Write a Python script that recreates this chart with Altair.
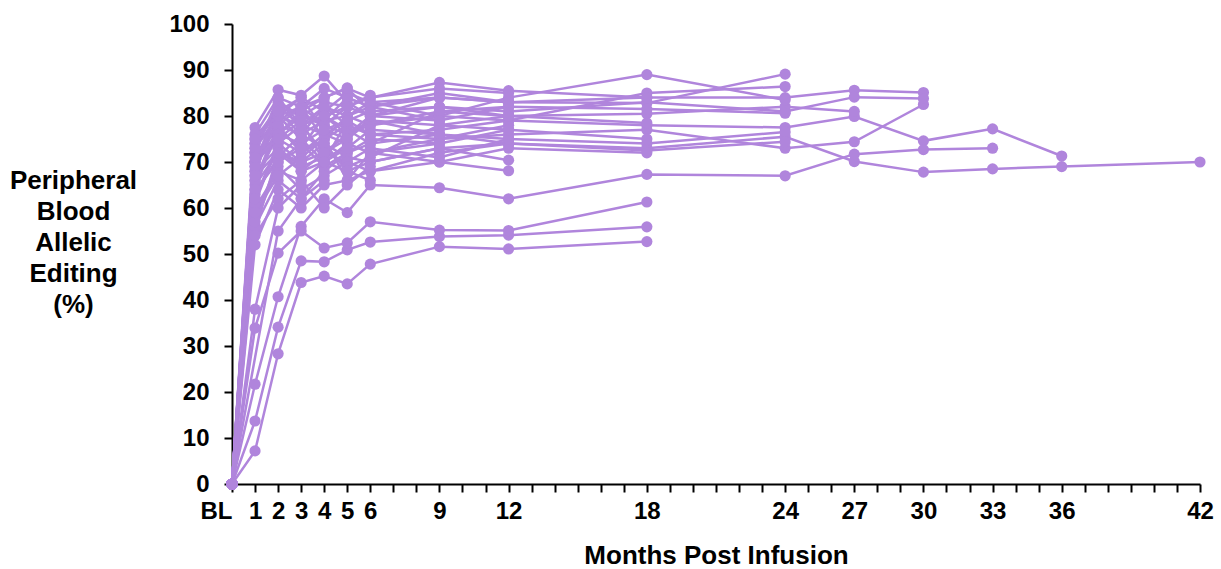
import altair as alt
import pandas as pd

months = [0, 1, 2, 3, 4, 5, 6, 9, 12, 18, 24, 27, 30, 33, 36, 42]
tick_labels = [0, 1, 2, 3, 4, 5, 6, 9, 12, 18, 24, 27, 30, 33, 36, 42]

# one list per patient, aligned with `months` (None = no sample)
p01 = [0, 62, 74, 70, 72, 70, 68, 72, 74, 73, 75.5, 70.1, 67.8, 68.5, 69.0, 70.0]
p02 = [0, 70, 78, 76, 79, 80, 78, 80, 79, 78, 77.5, 79.9, 74.6, 77.2, 71.3]
p03 = [0, 21.7, 40.7, 56, 62, 59, 65, 64.4, 62.0, 67.3, 67.0, 71.7, 72.7, 73.0]
p04 = [0, 55, 72, 68, 70, 74, 72, 75, 76, 77, 73, 74.4, 82.5]
p05 = [0, 74, 82, 80, 83, 82, 80, 84, 83, 84, 84, 85.6, 85.1]
p06 = [0, 68, 80, 78, 76, 79, 81, 82, 81, 83, 81, 84.1, 83.8]
p07 = [0, 66, 76, 74, 77, 75, 79, 78, 80, 80.5, 82, 81.0]
p08 = [0, 72, 84, 82, 86, 84, 82, 85, 83, 82.8, 89.1]
p09 = [0, 76, 80, 84, 81, 85, 83, 80, 84, 89.0, 83.5]
p10 = [0, 64, 78, 72, 75, 78, 76, 77, 79, 85, 86.4]
p11 = [0, 58, 70, 74, 69, 72, 74, 76, 75, 74, 76.5]
p12 = [0, 60, 68, 66, 70, 68, 70, 73, 74, 72.5, 74.4]
p13 = [0, 75, 82, 78, 80, 76, 78, 81, 82, 81.5, 80.6]
p14 = [0, 7.2, 28.3, 43.8, 45.2, 43.5, 47.8, 51.6, 51.1, 52.7]
p15 = [0, 13.7, 34.1, 48.5, 48.3, 50.9, 52.6, 53.8, 54.1, 55.9]
p16 = [0, 33.9, 50.2, 55, 51.3, 52.4, 57, 55.2, 55.1, 61.3]
p17 = [0, 73, 80, 82, 84, 86, 84, 87.3, 85.5, 84]
p18 = [0, 77.5, 85.7, 84.5, 88.7, 83, 80, 82, 80, 78.5]
p19 = [0, 56, 66, 62, 68, 72, 75, 74, 77, 75]
p20 = [0, 70, 75, 72, 76, 74, 72, 70, 73, 72]
p21 = [0, 71, 76, 80, 78, 82, 84, 86, 85]
p22 = [0, 65, 72, 70, 74, 71, 70, 73, 70.4]
p23 = [0, 52, 64, 60, 65, 66, 68, 70, 68.1]
p24 = [0, 69, 79, 82, 75, 80, 82, 79, 82]
p25 = [0, 74, 81, 76, 82, 78, 76, 75, 78]
p26 = [0, 61, 74, 78, 72, 76, 79, 76, 74]
p27 = [0, 67, 83, 80, 79, 84, 82, 84, 83]
p28 = [0, 57, 69, 64, 67, 70, 73, 71, 75]
p29 = [0, 72, 77, 73, 80, 77, 74, 81, 80]
p30 = [0, 63, 71, 76, 73, 69, 71, 78, 77]
p31 = [0, 76, 84, 78, 82, 80, 83, 84]
p32 = [0, 68, 73, 69, 71, 73, 77, 76]
p33 = [0, 59, 67, 71, 75, 66, 72, 74]
p34 = [0, 66, 78, 82, 78, 76, 80, 79]
p35 = [0, 73, 80, 75, 70, 79, 76]
p36 = [0, 54, 62, 66, 60, 65, 69]
p37 = [0, 70, 82, 78, 80, 82, 84.5]
p38 = [0, 64, 70, 73, 74, 68, 66]
p39 = [0, 75, 76, 81, 84, 86.1, 81]
p40 = [0, 62, 73, 68, 72, 75]
p41 = [0, 69, 81, 84, 77, 79]
p42 = [0, 71, 75, 79, 70, 73]
p43 = [0, None, 55, 62, 66]
p44 = [0, 38, 60, 65]
p45 = [0, 67, 72, 70]

patients = [p01, p02, p03, p04, p05, p06, p07, p08, p09, p10, p11, p12, p13, p14, p15,
            p16, p17, p18, p19, p20, p21, p22, p23, p24, p25, p26, p27, p28, p29, p30,
            p31, p32, p33, p34, p35, p36, p37, p38, p39, p40, p41, p42, p43, p44, p45]

rows = []
for i, series in enumerate(patients):
    for m, v in zip(months, series):
        if v is not None:
            rows.append({"patient": f"P{i + 1:02d}", "month": m, "value": v})
df = pd.DataFrame(rows)

PURPLE = "#B085DC"
FONT = "Liberation Sans"

label_list = ",".join(str(v) for v in tick_labels)
label_expr = (f"indexof([{label_list}], datum.value) >= 0 ? "
              "(datum.value == 0 ? 'BL' : datum.label) : ''")

x_enc = alt.X(
    "month:Q",
    scale=alt.Scale(domain=[0, 42], nice=False, zero=True),
    axis=alt.Axis(
        values=list(range(0, 43)),
        labelExpr=label_expr,
        labelOverlap=False,
        labelFlush=False,
        labelAlign={"condition": {"test": "datum.value == 0", "value": "right"}, "value": "center"},
        labelFont=FONT, labelFontSize=24, labelFontWeight="bold", labelColor="black",
        labelPadding=7,
        tickSize=8, tickWidth=2, tickColor="black",
        domainColor="black", domainWidth=2,
        grid=False,
        title="Months Post Infusion",
        titleFont=FONT, titleFontSize=26, titleFontWeight="bold", titleColor="black",
        titleBaseline="alphabetic", titleY=79,
    ),
)
y_enc = alt.Y(
    "value:Q",
    scale=alt.Scale(domain=[0, 100], nice=False),
    axis=alt.Axis(
        values=list(range(0, 101, 10)),
        labelFont=FONT, labelFontSize=24, labelFontWeight="bold", labelColor="black",
        labelPadding=15,
        tickSize=8, tickWidth=2, tickColor="black",
        domainColor="black", domainWidth=2,
        grid=False,
        title=["Peripheral", "Blood", "Allelic", "Editing", "(%)"],
        titleFont=FONT, titleFontSize=26, titleFontWeight="bold", titleColor="black",
        titleAngle=0, titleAlign="center", titleBaseline="alphabetic",
        titleX=-159, titleY=164, titleLineHeight=31,
    ),
)

base = alt.Chart(df).encode(x=x_enc, y=y_enc, detail="patient:N")
lines = base.mark_line(color=PURPLE, strokeWidth=2.5)
points = base.mark_circle(color=PURPLE, size=125, opacity=1)

chart = (
    alt.layer(lines, points)
    .properties(
        width=968, height=460,
        autosize=alt.AutoSizeParams(type="none"),
        padding={"left": 232, "top": 24, "right": 21, "bottom": 85},
        background="white",
    )
    .configure_view(stroke=None)
)

chart.save("out.html", embed_options={"renderer": "svg", "actions": False})
